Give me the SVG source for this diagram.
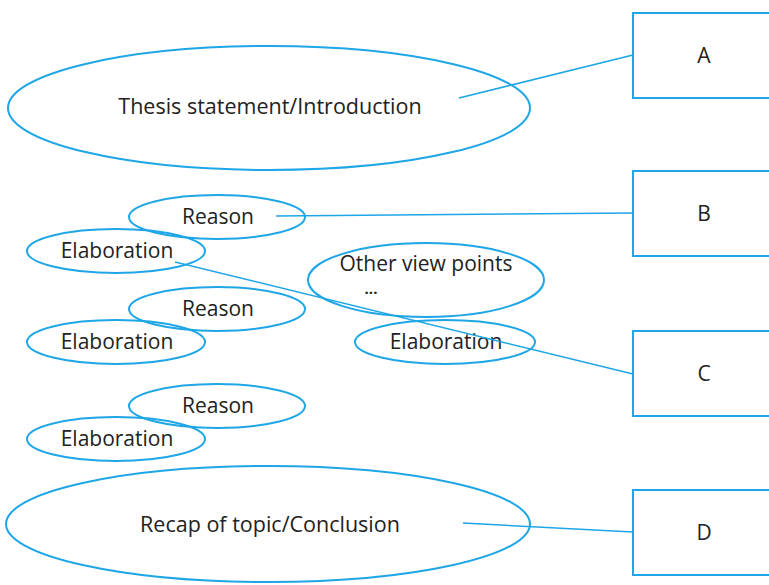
<svg xmlns="http://www.w3.org/2000/svg" width="769" height="585" viewBox="0 0 769 585">
<style>
.sh{fill:none;stroke:#1ea6e6;stroke-width:2}
.box{fill:#fff;stroke:#1ea6e6;stroke-width:2}
.ln{fill:none;stroke:#1ea6e6;stroke-width:1.5}
text{font-family:"Open Sans","Liberation Sans",sans-serif;fill:#222;text-anchor:middle;dominant-baseline:central}
.t{font-size:21.5px}
.s{font-size:21px}
.d{font-size:15px;font-weight:bold}
</style>
<rect width="769" height="585" fill="#fff"/>
<g id="thesis"><ellipse class="sh" cx="269" cy="108" rx="261" ry="62"/><text class="t" x="270" y="105">Thesis statement/Introduction</text></g>
<g id="reason1"><ellipse class="sh" cx="217" cy="217" rx="88" ry="22"/><text class="s" x="218" y="216">Reason</text></g>
<g id="elab1"><ellipse class="sh" cx="116" cy="251" rx="89" ry="22"/><text class="s" x="117" y="250">Elaboration</text></g>
<g id="other"><ellipse class="sh" cx="426" cy="280" rx="118" ry="37"/><text class="s" x="426" y="263">Other view points</text><text class="d" x="371" y="288">...</text></g>
<g id="reason2"><ellipse class="sh" cx="217" cy="309" rx="88" ry="22"/><text class="s" x="218" y="308">Reason</text></g>
<g id="elab2"><ellipse class="sh" cx="116" cy="342" rx="89" ry="22"/><text class="s" x="117" y="341">Elaboration</text></g>
<g id="elab3"><ellipse class="sh" cx="445" cy="342" rx="90" ry="22"/><text class="s" x="446" y="341">Elaboration</text></g>
<g id="reason3"><ellipse class="sh" cx="217" cy="406" rx="88" ry="22"/><text class="s" x="218" y="405">Reason</text></g>
<g id="elab4"><ellipse class="sh" cx="116" cy="439" rx="89" ry="22"/><text class="s" x="117" y="438">Elaboration</text></g>
<g id="recap"><ellipse class="sh" cx="268" cy="524" rx="262" ry="58"/><text class="t" x="270" y="523">Recap of topic/Conclusion</text></g>
<g id="boxA"><rect class="box" x="633" y="13" width="145" height="85"/><text class="s" x="704" y="55">A</text></g>
<g id="boxB"><rect class="box" x="633" y="171" width="145" height="85"/><text class="s" x="704" y="213">B</text></g>
<g id="boxC"><rect class="box" x="633" y="331" width="145" height="85"/><text class="s" x="704" y="373">C</text></g>
<g id="boxD"><rect class="box" x="633" y="490" width="145" height="85"/><text class="s" x="704" y="532">D</text></g>
<g id="connectors">
<line class="ln" x1="459" y1="98" x2="633" y2="55"/>
<line class="ln" x1="276" y1="216" x2="633" y2="213"/>
<line class="ln" x1="175" y1="262" x2="633" y2="374"/>
<line class="ln" x1="463" y1="523" x2="633" y2="532"/>
</g>
</svg>
